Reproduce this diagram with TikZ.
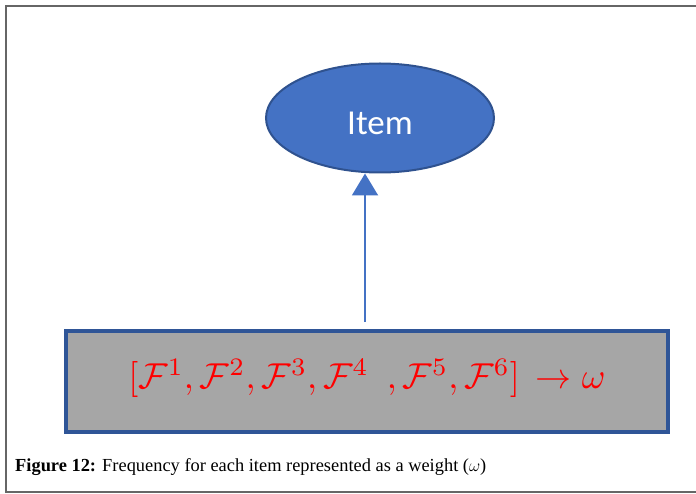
\documentclass[tikz,border=0pt]{standalone}
\usepackage{graphicx}
\usepackage{fontspec}
\usepackage{amsmath}
\setmainfont{Liberation Serif}
\newfontfamily\itemfont{Carlito}
\usetikzlibrary{shapes.geometric,arrows.meta}
\definecolor{itemfill}{HTML}{4472C4}
\definecolor{itemedge}{HTML}{2F528F}
\definecolor{boxedge}{HTML}{2F5597}
\definecolor{boxfill}{HTML}{A6A6A6}
\definecolor{framegray}{HTML}{666666}
\tikzset{
  itemnode/.style={ellipse, draw=itemedge, line width=2pt, fill=itemfill, minimum width=228pt, minimum height=109pt, inner sep=0pt, text=white, font=\itemfont\fontsize{35}{40}\selectfont},
  weightbox/.style={rectangle, draw=boxedge, line width=4.5pt, fill=boxfill, minimum width=602pt, minimum height=101pt, inner sep=0pt, text=red},
  link/.style={draw=itemfill, line width=2pt, -{Triangle[length=22pt,width=26pt]}},
}
\begin{document}
\begin{tikzpicture}[x=1pt,y=-1pt]
\useasboundingbox (0,0) rectangle (696,494);
\draw[framegray, line width=1.5pt] (700,6) -- (6,6) -- (6,492) -- (700,492);
\node[itemnode] (item) at (380,118) {\raisebox{-17pt}[0pt][0pt]{Item}};
\node[weightbox] (w) at (367,381.5) {\raisebox{-7pt}[0pt][0pt]{\scalebox{3.6}{$[\mathcal{F}^1, \mathcal{F}^2, \mathcal{F}^3, \mathcal{F}^4\ \ ,\mathcal{F}^5, \mathcal{F}^6] \,\rightarrow \omega$}}};
\draw[link] ([xshift=-2pt]w.north |- 0,322) -- ([xshift=-2pt]w.north |- item.south);
\node[anchor=base west, inner sep=0pt, font=\fontsize{18.4}{22}\selectfont] (cap) at (15,471) {\textbf{Figure 12:} Frequency for each item represented as a weight ($\omega$)};
\end{tikzpicture}
\end{document}
